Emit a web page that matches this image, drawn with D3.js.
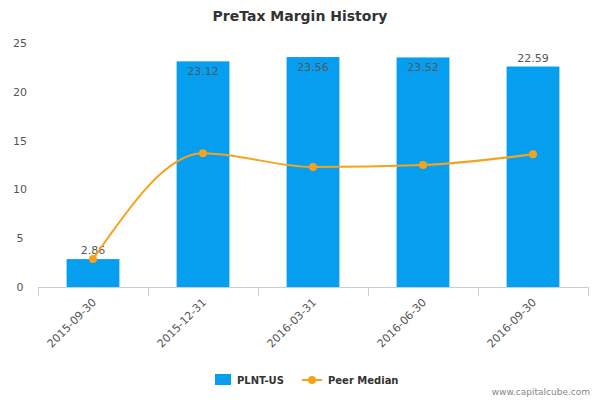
<!DOCTYPE html>
<html><head><meta charset="utf-8">
<script src="https://cdn.jsdelivr.net/npm/d3@7"></script>
<style>body{margin:0;background:#fff;font-family:"DejaVu Sans",sans-serif}</style>
</head><body><svg id="c" width="600" height="400"></svg>
<script>
const categories=["2015-09-30","2015-12-31","2016-03-31","2016-06-30","2016-09-30"];
const barValues=[2.86,23.12,23.56,23.52,22.59];
const peerValues=[2.87,13.7,12.3,12.5,13.6];
const yTicks=[0,5,10,15,20,25];
const svg=d3.select("#c");
const m={l:38,r:588,t:43,b:287};
const x=d3.scaleBand().domain(categories).range([m.l,m.r]).paddingInner(0.52).paddingOuter(0.26);
const xb=d3.scaleBand().domain(categories).range([m.l,m.r]);
const y=d3.scaleLinear().domain([0,25]).range([m.b,m.t]);
svg.append("text").attr("x",300).attr("y",21).attr("text-anchor","middle").attr("font-size",14).attr("font-weight","bold").attr("fill","#333").text("PreTax Margin History");
svg.selectAll(".yl").data(yTicks).join("text").attr("x",20).attr("y",d=>y(d)+4).attr("text-anchor","middle").attr("font-size",11).attr("fill","#555").text(d=>d);
svg.selectAll(".bar").data(barValues).join("rect").attr("x",(d,i)=>x(categories[i])).attr("width",x.bandwidth()).attr("y",d=>y(d)).attr("height",d=>m.b-y(d)).attr("fill","#069ff0");
svg.append("line").attr("x1",m.l).attr("x2",m.r).attr("y1",m.b+0.5).attr("y2",m.b+0.5).attr("stroke","#c0d0e0");
const tk=[...categories.map(c=>xb(c)),m.r];
svg.selectAll(".tk").data(tk).join("line").attr("x1",d=>d+0.5).attr("x2",d=>d+0.5).attr("y1",m.b).attr("y2",m.b+9).attr("stroke","#c0d0e0");
svg.selectAll(".xl").data(categories).join("text").attr("font-size",11).attr("fill","#555").attr("text-anchor","end")
 .attr("transform",d=>`translate(${xb(d)+xb.bandwidth()/2+4},${m.b+16}) rotate(-45)`).text(d=>d);
svg.selectAll(".bl").data(barValues).join("text").attr("font-size",11).attr("fill","#555").attr("text-anchor","middle")
 .attr("x",(d,i)=>x(categories[i])+x.bandwidth()/2).attr("y",(d,i)=>(i==0||i==4)?y(d)-5:y(d)+14).text(d=>d.toFixed(2));
const line=d3.line().x((d,i)=>xb(categories[i])+xb.bandwidth()/2).y(d=>y(d)).curve(d3.curveMonotoneX);
svg.append("path").attr("d",line(peerValues)).attr("fill","none").attr("stroke","#f7a21b").attr("stroke-width",2);
svg.selectAll(".pt").data(peerValues).join("circle").attr("cx",(d,i)=>xb(categories[i])+xb.bandwidth()/2).attr("cy",d=>y(d)).attr("r",4).attr("fill","#f7a21b");
svg.append("rect").attr("x",215).attr("y",374).attr("width",16).attr("height",11).attr("fill","#069ff0");
svg.append("text").attr("x",237).attr("y",384).attr("font-size",10).attr("font-weight","bold").attr("fill","#333").text("PLNT-US");
svg.append("line").attr("x1",302).attr("x2",322).attr("y1",380).attr("y2",380).attr("stroke","#f7a21b").attr("stroke-width",2);
svg.append("circle").attr("cx",312).attr("cy",380).attr("r",4).attr("fill","#f7a21b");
svg.append("text").attr("x",328).attr("y",384).attr("font-size",10).attr("font-weight","bold").attr("fill","#333").text("Peer Median");
svg.append("text").attr("x",590).attr("y",395).attr("text-anchor","end").attr("font-size",9).attr("fill","#888").text("www.capitalcube.com");
</script></body></html>
